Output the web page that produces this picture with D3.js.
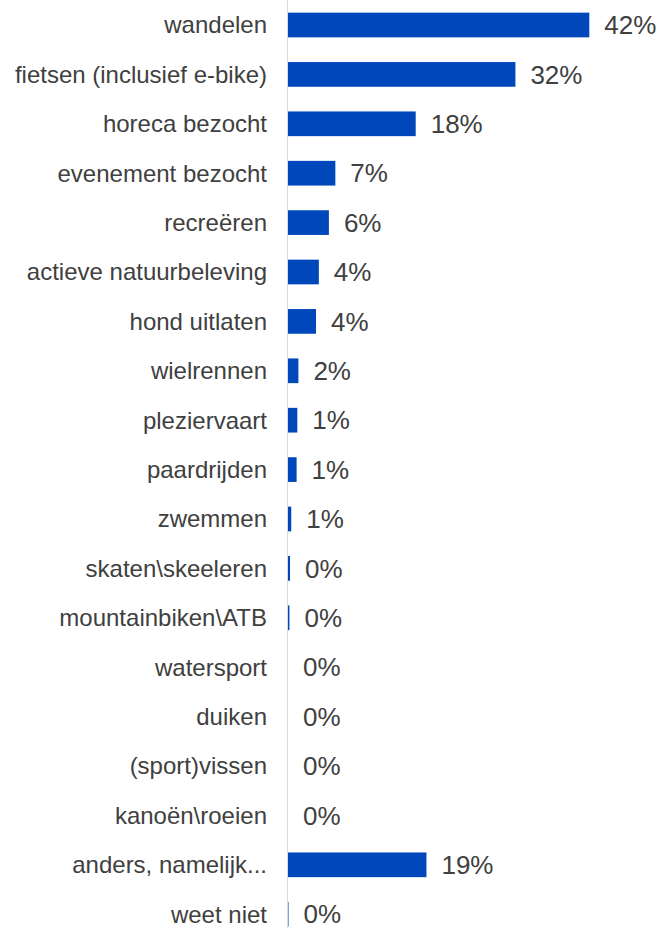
<!DOCTYPE html>
<html>
<head>
<meta charset="utf-8">
<script src="https://cdn.jsdelivr.net/npm/d3@7/dist/d3.min.js"></script>
<style>
  html, body { margin: 0; padding: 0; background: #ffffff; }
  svg { display: block; }
</style>
</head>
<body>
<svg id="chart" width="664" height="928"></svg>
<script>
const categories = [
  "wandelen",
  "fietsen (inclusief e-bike)",
  "horeca bezocht",
  "evenement bezocht",
  "recreëren",
  "actieve natuurbeleving",
  "hond uitlaten",
  "wielrennen",
  "pleziervaart",
  "paardrijden",
  "zwemmen",
  "skaten\\skeeleren",
  "mountainbiken\\ATB",
  "watersport",
  "duiken",
  "(sport)vissen",
  "kanoën\\roeien",
  "anders, namelijk...",
  "weet niet"
];
const values = [42.0, 31.7, 17.8, 6.6, 5.7, 4.3, 3.9, 1.45, 1.3, 1.2, 0.45, 0.28, 0.2, 0, 0, 0, 0, 19.3, 0.07];
const valueLabels = ["42%", "32%", "18%", "7%", "6%", "4%", "4%", "2%", "1%", "1%", "1%", "0%", "0%", "0%", "0%", "0%", "0%", "19%", "0%"];

const svg = d3.select("#chart");
const x0 = 288;
const x = d3.scaleLinear().domain([0, 50]).range([x0, x0 + 358.7]);
const y = d3.scaleBand().domain(categories).range([0.3, 938.9]).paddingInner(0.5).paddingOuter(0.25);

// axis line
svg.append("line")
  .attr("x1", x0 - 0.5).attr("x2", x0 - 0.5)
  .attr("y1", 0).attr("y2", 928)
  .attr("stroke", "#d9d9d9").attr("stroke-width", 1);

const data = categories.map((c, i) => ({ c, v: values[i], l: valueLabels[i] }));

svg.append("g").selectAll("rect").data(data).enter().append("rect")
  .attr("x", x(0))
  .attr("y", d => y(d.c))
  .attr("width", d => x(d.v) - x(0))
  .attr("height", y.bandwidth())
  .attr("fill", "#0047bb");

svg.append("g").selectAll("text").data(data).enter().append("text")
  .attr("x", 267)
  .attr("y", d => y(d.c) + y.bandwidth() / 2)
  .attr("dy", "0.35em")
  .attr("text-anchor", "end")
  .attr("font-family", "'Liberation Sans', Arial, sans-serif")
  .attr("font-size", 24)
  .attr("fill", "#404040")
  .text(d => d.c);

svg.append("g").selectAll("text").data(data).enter().append("text")
  .attr("x", d => x(d.v) + 15)
  .attr("y", d => y(d.c) + y.bandwidth() / 2)
  .attr("dy", "0.35em")
  .attr("text-anchor", "start")
  .attr("font-family", "'Liberation Sans', Arial, sans-serif")
  .attr("font-size", 26)
  .attr("fill", "#404040")
  .text(d => d.l);
</script>
</body>
</html>
